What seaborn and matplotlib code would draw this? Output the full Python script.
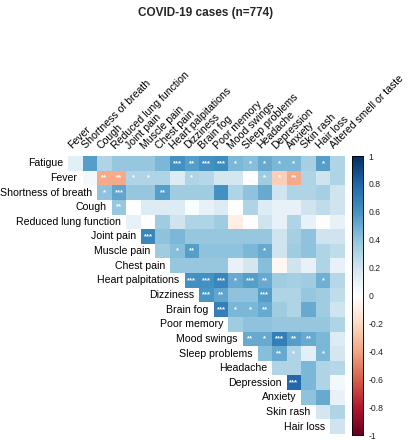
import numpy as np
import pandas as pd
import matplotlib
matplotlib.use("Agg")
import matplotlib.pyplot as plt
import seaborn as sns
from matplotlib.colors import LinearSegmentedColormap

title = "COVID-19 cases (n=774)"
row_labels = ["Fatigue", "Fever", "Shortness of breath", "Cough", "Reduced lung function",
              "Joint pain", "Muscle pain", "Chest pain", "Heart palpitations", "Dizziness",
              "Brain fog", "Poor memory", "Mood swings", "Sleep problems", "Headache",
              "Depression", "Anxiety", "Skin rash", "Hair loss"]
col_labels = ["Fever", "Shortness of breath", "Cough", "Reduced lung function", "Joint pain",
              "Muscle pain", "Chest pain", "Heart palpitations", "Dizziness", "Brain fog",
              "Poor memory", "Mood swings", "Sleep problems", "Headache", "Depression",
              "Anxiety", "Skin rash", "Hair loss", "Altered smell or taste"]

# correlation values per row, starting at the row's first (diagonal) column
fatigue = [0.12, 0.55, 0.30, 0.38, 0.38, 0.38, 0.45, 0.60, 0.55, 0.60, 0.62, 0.45, 0.42, 0.50, 0.45, 0.45, 0.33, 0.55, 0.30]
fever = [0.05, -0.38, -0.38, 0.30, 0.30, 0.30, 0.15, 0.30, 0.28, 0.18, 0.18, 0.00, 0.35, -0.25, -0.38, 0.30, 0.20, 0.30]
shortness = [0.40, 0.52, 0.38, 0.38, 0.55, 0.35, 0.35, 0.35, 0.60, 0.30, 0.40, 0.50, 0.20, 0.30, 0.30, 0.33, 0.20]
cough = [0.38, 0.00, 0.15, 0.15, 0.15, 0.02, 0.10, 0.15, 0.00, 0.30, 0.15, 0.10, 0.10, 0.20, 0.25, 0.20]
lung = [0.10, 0.00, 0.35, 0.20, 0.30, 0.30, 0.35, -0.10, 0.00, 0.20, 0.10, 0.30, 0.10, 0.00, 0.10]
joint = [0.65, 0.40, 0.45, 0.38, 0.38, 0.38, 0.38, 0.38, 0.38, 0.20, 0.33, 0.40, 0.20, 0.20]
muscle = [0.35, 0.42, 0.55, 0.40, 0.40, 0.40, 0.45, 0.50, 0.20, 0.35, 0.40, 0.30, 0.25]
chest = [0.38, 0.38, 0.38, 0.38, 0.10, 0.18, 0.42, -0.05, 0.20, 0.10, 0.30, 0.10]
heart = [0.60, 0.60, 0.65, 0.50, 0.55, 0.50, 0.35, 0.33, 0.35, 0.48, 0.28]
dizzy = [0.58, 0.52, 0.40, 0.40, 0.55, 0.30, 0.30, 0.38, 0.35, 0.25]
brainfog = [0.68, 0.45, 0.45, 0.50, 0.35, 0.30, 0.50, 0.35, 0.20]
memory = [0.35, 0.40, 0.40, 0.38, 0.38, 0.38, 0.38, 0.30]
mood = [0.50, 0.50, 0.68, 0.55, 0.50, 0.45, 0.15]
sleep = [0.42, 0.50, 0.30, 0.12, 0.45, 0.18]
headache = [0.30, 0.30, 0.45, 0.30, 0.28]
depression = [0.78, 0.45, 0.30, 0.05]
anxiety = [0.40, 0.50, 0.10]
skinrash = [0.18, 0.30]
hairloss = [0.20]

# significance marks per row
fatigue_sig = ["", "", "", "", "", "", "", "***", "**", "***", "***", "*", "*", "*", "*", "*", "", "*", ""]
fever_sig = ["", "**", "**", "*", "*", "", "", "*", "", "", "", "", "*", "*", "**", "", "", ""]
shortness_sig = ["*", "***", "", "", "**"] + [""] * 12
cough_sig = ["**"] + [""] * 15
lung_sig = [""] * 15
joint_sig = ["***"] + [""] * 13
muscle_sig = ["", "*", "**", "", "", "", "", "*", "", "", "", "", ""]
chest_sig = ["", "", "", "", "", "", "", "*", "", "", "", ""]
heart_sig = ["***", "***", "***", "*", "***", "**", "", "", "", "*", ""]
dizzy_sig = ["***", "**", "", "", "***", "", "", "", "", ""]
brainfog_sig = ["***", "*", "*", "**", "", "", "", "", ""]
memory_sig = [""] * 8
mood_sig = ["**", "*", "***", "**", "**", "", ""]
sleep_sig = ["", "**", "*", "", "*", ""]
headache_sig = [""] * 5
depression_sig = ["***", "", "", ""]
anxiety_sig = [""] * 3
skinrash_sig = [""] * 2
hairloss_sig = [""]

rows = [fatigue, fever, shortness, cough, lung, joint, muscle, chest, heart, dizzy,
        brainfog, memory, mood, sleep, headache, depression, anxiety, skinrash, hairloss]
sigs = [fatigue_sig, fever_sig, shortness_sig, cough_sig, lung_sig, joint_sig, muscle_sig,
        chest_sig, heart_sig, dizzy_sig, brainfog_sig, memory_sig, mood_sig, sleep_sig,
        headache_sig, depression_sig, anxiety_sig, skinrash_sig, hairloss_sig]

n = len(row_labels)
mat = np.full((n, n), np.nan)
ann = np.full((n, n), "", dtype=object)
for i, (vals, ss) in enumerate(zip(rows, sigs)):
    for k, (v, s) in enumerate(zip(vals, ss)):
        mat[i, i + k] = v
        ann[i, i + k] = s
df = pd.DataFrame(mat, index=row_labels, columns=col_labels)
mask = np.isnan(mat)

sns.set_style("white")
plt.rcParams['font.family'] = ['Liberation Sans', 'DejaVu Sans']

cmap = LinearSegmentedColormap.from_list(
    "corrRdBu",
    ["#67001F", "#B2182B", "#D6604D", "#F4A582", "#FDDBC7", "#FFFFFF",
     "#D1E5F0", "#92C5DE", "#4393C3", "#2166AC", "#053061"], N=200)

W, H = 413, 440
fig = plt.figure(figsize=(W / 100, H / 100), dpi=100)
ax = fig.add_axes([68 / W, 1 - 434 / H, 277 / W, 278 / H])
cax = fig.add_axes([352 / W, 1 - 435 / H, 11 / W, 279 / H])

sns.heatmap(df, mask=mask, cmap=cmap, vmin=-1, vmax=1, ax=ax, cbar_ax=cax,
            annot=ann, fmt="", annot_kws=dict(color="white", fontsize=5.5, fontweight="bold", va="center"),
            xticklabels=False, yticklabels=False, linewidths=0)
ax.set_xlabel("")
ax.set_ylabel("")

fs = 7.6
for i, lab in enumerate(row_labels):
    ax.text(i - 0.35, i + 0.5, lab, ha="right", va="center", fontsize=fs, color="black")
for j, lab in enumerate(col_labels):
    ax.text(j + 0.35, -0.35, lab, ha="left", va="bottom", rotation=45,
            rotation_mode="anchor", fontsize=fs, color="black")

ticks = [1, 0.8, 0.6, 0.4, 0.2, 0, -0.2, -0.4, -0.6, -0.8, -1]
cax.set_yticks(ticks)
cax.set_yticklabels([("%g" % t) for t in ticks], fontsize=6.2, color="#222222")
cax.tick_params(axis="y", direction="in", length=2, width=0.5, pad=4, right=True, left=False)
for s in cax.spines.values():
    s.set_visible(True)
    s.set_linewidth(0.5)
    s.set_color("black")

fig.text(206 / W, 1 - 13 / H, title, ha="center", va="center", fontsize=8.5, fontweight="bold")

fig.savefig("out.png", dpi=100)
